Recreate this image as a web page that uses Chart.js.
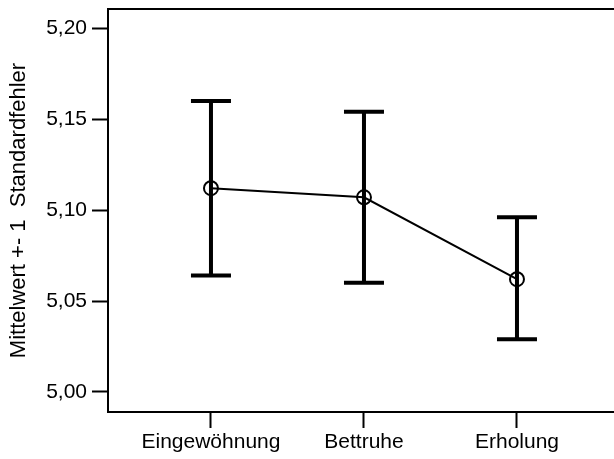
<!DOCTYPE html>
<html>
<head>
<meta charset="utf-8">
<script src="https://cdn.jsdelivr.net/npm/chart.js@4/dist/chart.umd.min.js"></script>
<style>
  html, body { margin: 0; padding: 0; background: #fff; overflow: hidden; }
  #wrap { width: 640px; height: 459px; }
</style>
</head>
<body>
<div id="wrap"><canvas id="myChart"></canvas></div>
<script>
  const categories = ['Eingewöhnung', 'Bettruhe', 'Erholung'];
  const means = [5.112, 5.107, 5.062];
  const upper = [5.160, 5.154, 5.096];
  const lower = [5.064, 5.060, 5.029];
  const yTicks = [5.00, 5.05, 5.10, 5.15, 5.20];

  const font = { family: "'Liberation Sans', Arial, sans-serif", size: 21 };

  // error bars + frame, drawn from the scales
  const errorBars = {
    id: 'errorBars',
    beforeDatasetsDraw(chart) {
      const ctx = chart.ctx;
      const xs = chart.scales.x, ys = chart.scales.y;
      ctx.save();
      ctx.strokeStyle = '#000';
      ctx.lineWidth = 4;
      ctx.lineCap = 'butt';
      for (let i = 0; i < categories.length; i++) {
        const px = xs.getPixelForValue(i);
        const top = ys.getPixelForValue(upper[i]);
        const bot = ys.getPixelForValue(lower[i]);
        ctx.beginPath();
        ctx.moveTo(px, top); ctx.lineTo(px, bot);
        ctx.moveTo(px - 20, top); ctx.lineTo(px + 20, top);
        ctx.moveTo(px - 20, bot); ctx.lineTo(px + 20, bot);
        ctx.stroke();
      }
      ctx.restore();
    },
    afterDraw(chart) {
      const a = chart.chartArea, ctx = chart.ctx;
      ctx.save();
      ctx.strokeStyle = '#000';
      ctx.lineWidth = 2;
      ctx.strokeRect(a.left, a.top, a.right - a.left, a.bottom - a.top);
      ctx.restore();
    }
  };

  const data = {
    datasets: [{
      data: means.map((m, i) => ({ x: i, y: m })),
      borderColor: '#000',
      borderWidth: 2,
      pointRadius: 7,
      pointBorderWidth: 2,
      pointBackgroundColor: 'rgba(0,0,0,0)',
      pointBorderColor: '#000',
      showLine: true,
      fill: false,
      tension: 0
    }]
  };

  const config = {
    type: 'scatter',
    data: data,
    options: {
      responsive: true,
      maintainAspectRatio: false,
      animation: false,
      layout: { padding: { top: 7, right: 15, bottom: 0, left: 0 } },
      plugins: { legend: { display: false }, tooltip: { enabled: false } },
      scales: {
        x: {
          type: 'linear',
          min: -0.673,
          max: 2.706,
          afterBuildTicks(s) { s.ticks = categories.map((c, i) => ({ value: i })); },
          afterFit(s) { s.height = 47; s.paddingLeft = 0; s.paddingRight = 0; },
          ticks: {
            color: '#000',
            font: font,
            padding: 2,
            maxRotation: 0,
            autoSkip: false,
            callback: (v) => categories[v]
          },
          grid: { drawOnChartArea: false, drawTicks: true, tickLength: 16, tickWidth: 2, tickColor: '#000' },
          border: { display: true, color: '#000', width: 2 }
        },
        y: {
          min: 4.989,
          max: 5.2105,
          afterBuildTicks(s) { s.ticks = yTicks.map(v => ({ value: v })); },
          afterFit(s) { s.width = 108; s.paddingTop = 0; s.paddingBottom = 0; },
          ticks: {
            color: '#000',
            font: font,
            padding: 5,
            callback: (v) => v.toFixed(2).replace('.', ',')
          },
          grid: { drawOnChartArea: false, drawTicks: true, tickLength: 16, tickWidth: 2, tickColor: '#000' },
          border: { display: true, color: '#000', width: 2 },
          title: {
            display: true,
            text: 'Mittelwert +- 1  Standardfehler',
            color: '#000',
            font: { family: font.family, size: 22 },
            padding: { top: 6, bottom: 0 }
          }
        }
      }
    },
    plugins: [errorBars]
  };

  const myChart = new Chart(document.getElementById('myChart'), config);
</script>
</body>
</html>
